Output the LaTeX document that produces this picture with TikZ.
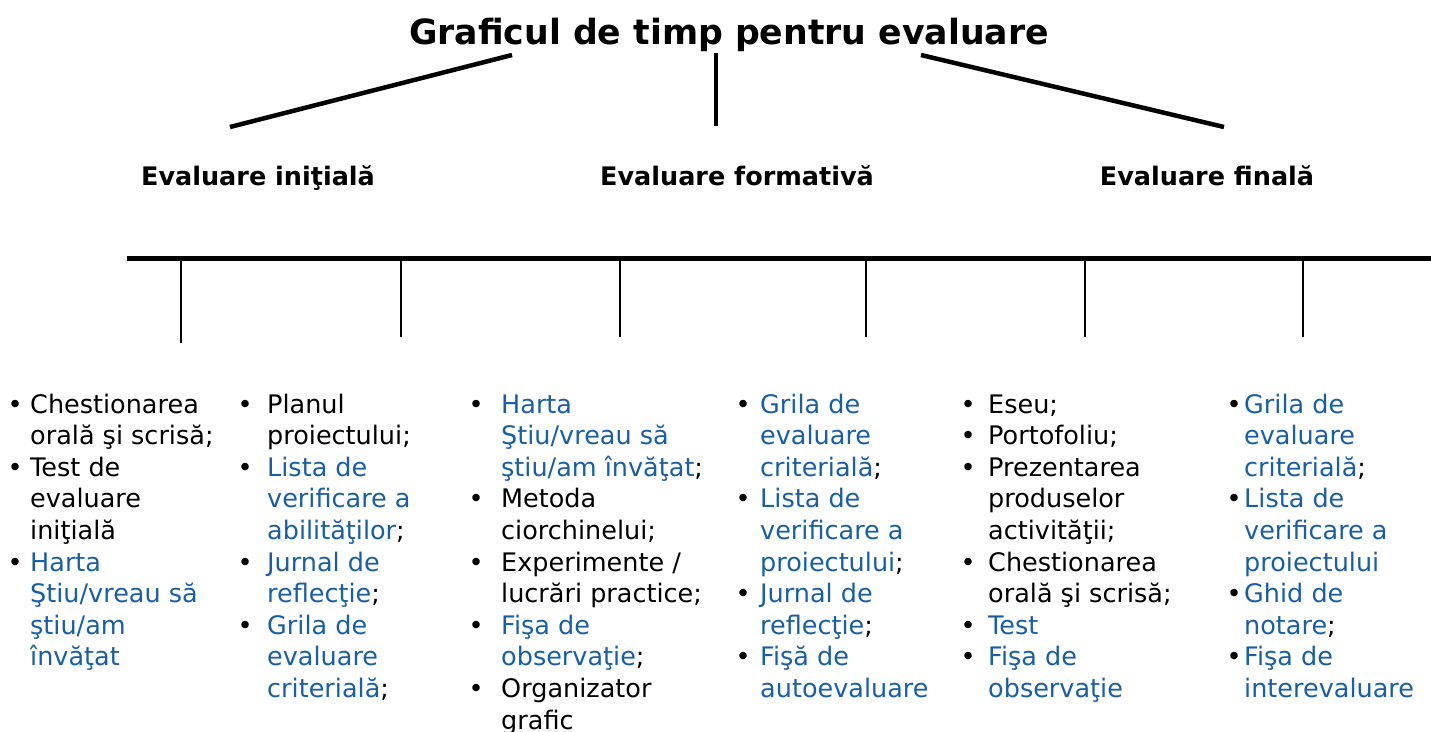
\documentclass[tikz,border=0pt]{standalone}
\usepackage{fontspec}
\setmainfont{DejaVu Sans}
\definecolor{lk}{RGB}{25,95,165}
\newcommand\bul[1]{\leavevmode\llap{•\hspace{#1}}}
\newcommand\lk[1]{\textcolor{lk}{#1}}
\begin{document}
\begin{tikzpicture}[x=1pt,y=-1pt,
  col/.style={anchor=base west,inner sep=0pt,font=\fontsize{25.5}{31.6}\selectfont},
  lbl/.style={anchor=base,inner sep=0pt,font=\fontsize{25.5}{30}\selectfont\bfseries},
  thick line/.style={line width=4.5pt},
  tick/.style={line width=2.6pt}]
\useasboundingbox (0,0) rectangle (1431,731);
\fill[white] (0,0) rectangle (1431,731);
% title and labels
\node[anchor=base,inner sep=0pt,font=\fontsize{34.7}{40}\selectfont\bfseries] (title) at (729,44) {Graficul de timp pentru evaluare};
\node[lbl] (l1) at (258,185) {Evaluare iniţială};
\node[lbl] (l2) at (737,185) {Evaluare formativă};
\node[lbl] (l3) at (1207,185) {Evaluare finală};
% branch lines
\coordinate (b1s) at (512,55); \coordinate (b1e) at (230,127);
\coordinate (b2s) at (716,53); \coordinate (b2e) at (716,126);
\coordinate (b3s) at (921,55); \coordinate (b3e) at (1224,127);
\draw[thick line] (b1s) -- (b1e);
\draw[line width=3.5pt] (b2s) -- (b2e);
\draw[thick line] (b3s) -- (b3e);
% timeline
\coordinate (tl0) at (127,258); \coordinate (tl1) at (1431,258);
\draw[line width=5pt] (tl0) -- (tl1);
\foreach \x/\y/\n in {181/343/1,401/337/2,620/337/3,866/337/4,1085/337/5,1303/337/6}{
  \coordinate (t\n a) at (\x,258); \coordinate (t\n b) at (\x,\y);
  \draw[tick] (t\n a) -- (t\n b);
}
% columns
\node[col] (c1) at (30,413) {\begin{minipage}[t]{220pt}\raggedright
\bul{7.5pt}Chestionarea\\ orală şi scrisă;\\
\bul{7.5pt}Test de\\ evaluare\\ iniţială\\
\bul{7.5pt}\lk{Harta}\\ \lk{Ştiu/vreau să}\\ \lk{ştiu/am}\\ \lk{învăţat}
\end{minipage}};
\node[col] (c2) at (267,413) {\begin{minipage}[t]{220pt}\raggedright
\bul{14.5pt}Planul\\ proiectului;\\
\bul{14.5pt}\lk{Lista de}\\ \lk{verificare a}\\ \lk{abilităţilor};\\
\bul{14.5pt}\lk{Jurnal de}\\ \lk{reflecţie};\\
\bul{14.5pt}\lk{Grila de}\\ \lk{evaluare}\\ \lk{criterială};
\end{minipage}};
\node[col] (c3) at (501,413) {\begin{minipage}[t]{240pt}\raggedright
\bul{17.5pt}\lk{Harta}\\ \lk{Ştiu/vreau să}\\ \lk{ştiu/am învăţat};\\
\bul{17.5pt}Metoda\\ ciorchinelui;\\
\bul{17.5pt}Experimente /\\ lucrări practice;\\
\bul{17.5pt}\lk{Fişa de}\\ \lk{observaţie};\\
\bul{17.5pt}Organizator\\ grafic
\end{minipage}};
\node[col] (c4) at (760,413) {\begin{minipage}[t]{220pt}\raggedright
\bul{9.5pt}\lk{Grila de}\\ \lk{evaluare}\\ \lk{criterială};\\
\bul{9.5pt}\lk{Lista de}\\ \lk{verificare a}\\ \lk{proiectului};\\
\bul{9.5pt}\lk{Jurnal de}\\ \lk{reflecţie};\\
\bul{9.5pt}\lk{Fişă de}\\ \lk{autoevaluare}
\end{minipage}};
\node[col] (c5) at (988,413) {\begin{minipage}[t]{240pt}\raggedright
\bul{12.5pt}Eseu;\\
\bul{12.5pt}Portofoliu;\\
\bul{12.5pt}Prezentarea\\ produselor\\ activităţii;\\
\bul{12.5pt}Chestionarea\\ orală şi scrisă;\\
\bul{12.5pt}\lk{Test}\\
\bul{12.5pt}\lk{Fişa de}\\ \lk{observaţie}
\end{minipage}};
\node[col] (c6) at (1244,413) {\begin{minipage}[t]{200pt}\raggedright
\bul{2.5pt}\lk{Grila de}\\ \lk{evaluare}\\ \lk{criterială};\\
\bul{2.5pt}\lk{Lista de}\\ \lk{verificare a}\\ \lk{proiectului}\\
\bul{2.5pt}\lk{Ghid de}\\ \lk{notare};\\
\bul{2.5pt}\lk{Fişa de}\\ \lk{interevaluare}
\end{minipage}};
\end{tikzpicture}
\end{document}
